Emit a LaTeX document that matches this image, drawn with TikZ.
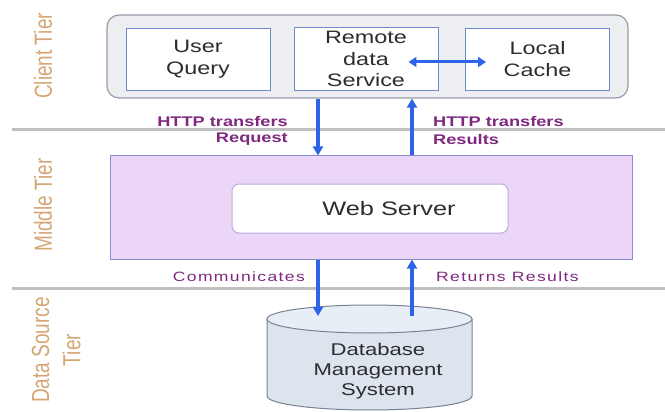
\documentclass[tikz,border=0pt]{standalone}
\usepackage{fontspec}
\setmainfont{Liberation Sans}
\newfontfamily\wideface[FakeStretch=1.3]{Liberation Sans}
\newfontfamily\widespaced[FakeStretch=1.3,LetterSpace=10]{Liberation Sans}
\usepackage{tikz}
\usetikzlibrary{arrows.meta,positioning}
\definecolor{tierTan}{RGB}{212,166,116}
\definecolor{flowBlue}{RGB}{45,100,232}
\definecolor{labPurple}{RGB}{128,40,128}
\definecolor{sepGrey}{RGB}{192,192,192}
\definecolor{clientFill}{RGB}{236,238,242}
\definecolor{clientEdge}{RGB}{150,156,168}
\definecolor{boxBlue}{RGB}{110,140,205}
\definecolor{midFill}{RGB}{236,214,248}
\definecolor{midEdge}{RGB}{140,140,212}
\definecolor{wsEdge}{RGB}{185,175,215}
\definecolor{dbBody}{RGB}{220,228,238}
\definecolor{dbTop}{RGB}{232,238,246}
\definecolor{dbEdge}{RGB}{120,130,148}
\definecolor{inkGrey}{RGB}{45,45,45}

\begin{document}
\begin{tikzpicture}[x=1pt, y=-1pt,
  tier/.style={text=tierTan, rotate=90, align=center, font={\fontsize{19}{22}\selectfont}},
  box/.style={draw=boxBlue, fill=white, line width=0.9pt, minimum width=144pt, minimum height=62pt,
    align=center, text=inkGrey, font={\wideface\fontsize{18}{21.5}\selectfont}},
  boxtext/.style={align=center, text=inkGrey, font={\wideface\fontsize{17}{20}\selectfont}},
  httplab/.style={text=labPurple, font={\wideface\bfseries\fontsize{14}{16}\selectfont}, inner sep=0pt},
  dblab/.style={text=labPurple, font={\widespaced\fontsize{13.5}{16}\selectfont}, inner sep=0pt},
  flow/.style={draw=flowBlue, line width=3.5pt, -{Triangle[length=9pt,width=10pt]}},
  sep/.style={draw=sepGrey, line width=3pt}]
  \useasboundingbox (0,0) rectangle (665,412);

  % tier separators
  \coordinate (sepA) at (12,130);
  \coordinate (sepB) at (12,288);
  \draw[sep] (sepA) -- ++(653,0);
  \draw[sep] (sepB) -- ++(653,0);

  % tier names
  \node[tier] (clienttier) at (43,56) {\scalebox{1}[1.3]{Client Tier}};
  \node[tier] (middletier) at (43,205) {\scalebox{1}[1.3]{Middle Tier}};
  \node[tier] (datatier) at (59,350)
    {\scalebox{1}[1.3]{\begin{tabular}{@{}c@{}}Data Source\\[2pt] Tier\end{tabular}}};

  % client tier
  \node[draw=clientEdge, fill=clientFill, line width=1.2pt, rounded corners=12pt,
    minimum width=521pt, minimum height=83pt] (client) at (367.5,56.5) {};
  \node[box] (query) at (198,59) {User\\Query};
  \node[box] (remote) at (366,59) {Remote\\data\\Service};
  \node[box] (cache) at (537.5,59) {Local\\Cache};
  \draw[draw=flowBlue, line width=3pt, {Triangle[length=8pt,width=10pt]}-{Triangle[length=8pt,width=10pt]}]
    ([shift={(-30,3)}]remote.east) -- ([shift={(21,3)}]cache.west);

  % middle tier
  \node[draw=midEdge, fill=midFill, line width=1pt, minimum width=522pt, minimum height=103pt]
    (middle) at (371,207.5) {};
  \node[draw=wsEdge, fill=white, line width=1pt, rounded corners=7pt,
    minimum width=276pt, minimum height=49pt] (webserver) at (370,208.5) {};
  \node[boxtext, font={\wideface\fontsize{19.5}{22}\selectfont}] (wslabel) at (389,209) {Web Server};

  % data source tier: cylinder
  \filldraw[draw=dbEdge, fill=dbBody, line width=1pt] (267,319) -- (267,396)
    arc[start angle=180, end angle=0, x radius=102.5, y radius=14] -- (472,319);
  \filldraw[draw=dbEdge, fill=dbTop, line width=1pt] (369.5,319) ellipse [x radius=102.5, y radius=14];
  \node[boxtext] (dblabel) at (378,371) {Database\\Management\\System};

  % HTTP traffic between client, web server and database
  \coordinate (reqx) at (318,0);
  \coordinate (resx) at (412,0);
  \coordinate (dbtop) at (369.5,316);
  \draw[flow] (client.south -| reqx) -- (middle.north -| reqx);
  \draw[flow] (middle.north -| resx) -- (client.south -| resx);
  \draw[flow] (middle.south -| reqx) -- (dbtop -| reqx);
  \draw[flow] (dbtop -| resx) -- (middle.south -| resx);

  \node[httplab, anchor=east] (httpreq) at (288,121) {HTTP transfers};
  \node[httplab, anchor=east] (request) at (288,139) {Request};
  \node[httplab, anchor=west] (httpres) at (433,121) {HTTP transfers};
  \node[httplab, anchor=west] (results) at (433,139) {Results};
  \node[dblab, anchor=east] (communicates) at (305,277) {Communicates};
  \node[dblab, anchor=west] (returns) at (436,277) {Returns Results};
\end{tikzpicture}
\end{document}
